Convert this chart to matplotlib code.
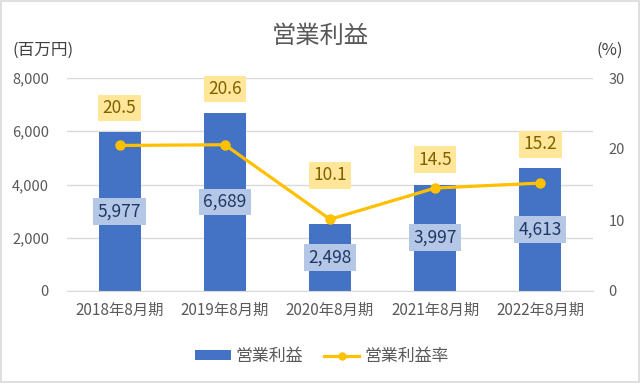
import numpy as np
import matplotlib
matplotlib.use('Agg')
from matplotlib import pyplot as plt
from matplotlib.patches import Rectangle
from matplotlib.lines import Line2D

plt.rcParams['font.family'] = ['Noto Sans CJK JP', 'DejaVu Sans']

# data
periods = ['2018年8月期', '2019年8月期', '2020年8月期', '2021年8月期', '2022年8月期']
profit = [5977, 6689, 2498, 3997, 4613]          # 営業利益 (百万円)
margin = [20.5, 20.6, 10.1, 14.5, 15.2]          # 営業利益率 (%)

bar_col = '#4472c4'
line_col = '#ffc000'
txt_col = '#595959'
grid_col = '#d9d9d9'

fig = plt.figure(figsize=(6.4, 3.83), dpi=100)
ax = fig.add_axes([67/640, 1-291/383, 526/640, 213/383])
ax2 = ax.twinx()

x = np.arange(len(periods))
ax.bar(x, profit, width=0.4, color=bar_col, zorder=2)
ax2.plot(x, margin, color=line_col, lw=2.3, marker='o', ms=6.5, zorder=3)

ax.set_ylim(0, 8000)
ax2.set_ylim(0, 30)
ax.set_xlim(-0.5, len(periods)-0.5)
ax.set_yticks(np.arange(0, 8001, 2000))
ax2.set_yticks([0, 10, 20, 30])
ax.yaxis.set_major_formatter(matplotlib.ticker.FuncFormatter(lambda v, p: '{:,}'.format(int(v))))
ax.set_xticks(x)
ax.set_xticklabels(periods)

ax.grid(axis='y', color=grid_col, lw=1, zorder=0)
ax.set_axisbelow(True)
for a in (ax, ax2):
    for s in a.spines.values():
        s.set_visible(False)
    a.tick_params(length=0, labelsize=10.5, colors=txt_col)
ax.tick_params(axis='x', labelsize=11, pad=8)
ax.spines['bottom'].set_visible(True)
ax.spines['bottom'].set_color(grid_col)
ax.tick_params(axis='y', pad=13)
ax2.tick_params(axis='y', pad=11)

# value labels inside bars
for xi, v in zip(x, profit):
    ax.text(xi, v/2, '{:,}'.format(v), ha='center', va='center', fontsize=12.5,
            color='#1f3864', zorder=5,
            bbox=dict(boxstyle='square,pad=0.25', fc='#b4c7e7', ec='none'))

# margin labels above bar/point
offsets = [15, 15, 35, 16, 15]   # px above the higher of bar top / point
for xi, v, m, off in zip(x, profit, margin, offsets):
    top = max(v/8000*30, m)
    ax2.annotate('{:.1f}'.format(m), (xi, top), xytext=(0, off), textcoords='offset pixels',
                 ha='center', va='bottom', fontsize=12.5, color='#7f6000', zorder=5,
                 bbox=dict(boxstyle='square,pad=0.25', fc='#ffe699', ec='none'))

fig.text(320/640, 1-36/383, '営業利益', ha='center', va='center', fontsize=17.5, color=txt_col)
fig.text(12/640, 1-50/383, '(百万円)', ha='left', va='center', fontsize=12, color='#404040')
fig.text(597/640, 1-50/383, '(%)', ha='left', va='center', fontsize=12, color='#404040')

# legend
handles = [Rectangle((0, 0), 1, 1, fc=bar_col, ec='none'),
           Line2D([], [], color=line_col, lw=2.3, marker='o', ms=5)]
fig.legend(handles, ['営業利益', '営業利益率'], loc='center', bbox_to_anchor=(322/640, 1-356/383),
           ncol=2, frameon=False, fontsize=12.2, labelcolor=txt_col, handlelength=2.1,
           handleheight=0.45, columnspacing=1.2, handletextpad=0.3)

# chart border
fig.patches.append(Rectangle((0.002, 0.003), 0.996, 0.994, transform=fig.transFigure,
                             fill=False, ec='#d9d9d9', lw=1.2))

fig.savefig('out.png', dpi=100)
